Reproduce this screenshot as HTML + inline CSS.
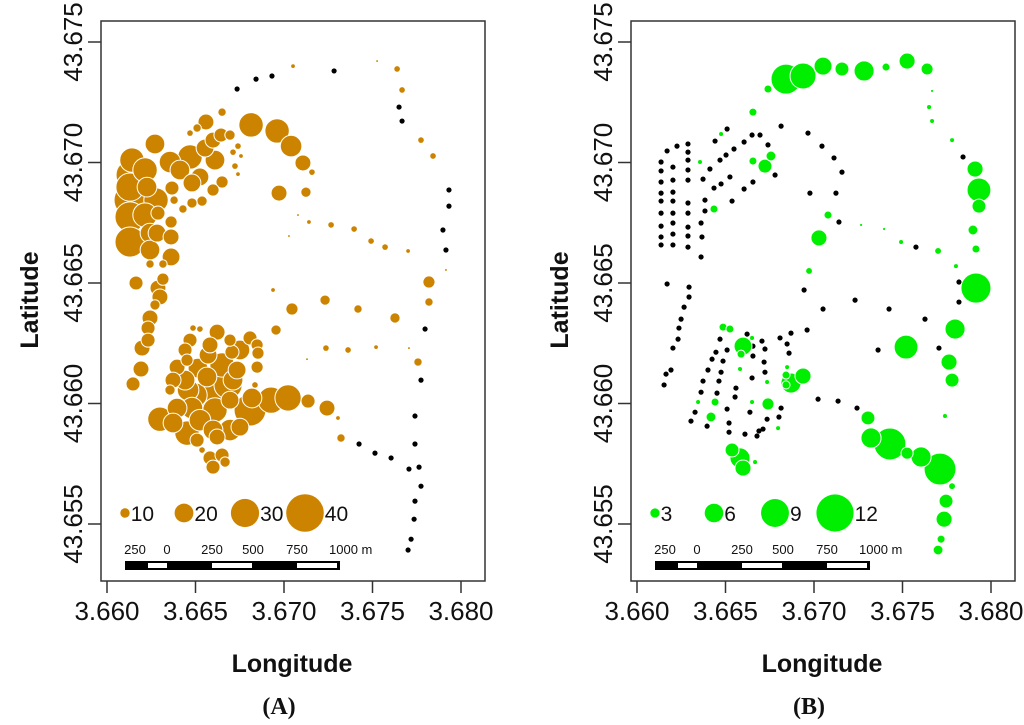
<!DOCTYPE html>
<html><head><meta charset="utf-8"><style>
body{margin:0;background:#fff;}
svg{display:block;font-family:"Liberation Sans",sans-serif;}
</style></head><body>
<svg id="fig" width="1024" height="725" viewBox="0 0 1024 725" xmlns="http://www.w3.org/2000/svg"></svg>
<script>
const xTicks=[3.660,3.665,3.670,3.675,3.680];
const yTicks=[43.655,43.660,43.665,43.670,43.675];
const xTickLabels=["3.660","3.665","3.670","3.675","3.680"];
const yTickLabels=["43.655","43.660","43.665","43.670","43.675"];
const legendA=[10,20,30,40];
const legendB=[3,6,9,12];
const scaleLabels=["250","0","250","500","750","1000 m"];
// Panel A: stations with zero counts (black)
const zeroLonA=[3.66735,3.66842,3.66932,3.67283,3.67650,3.67667,3.67932,3.67932,3.67898,3.67915,3.67797,3.67774,3.67740,3.67740,3.67763,3.67774,3.67740,3.67735,3.67718,3.67701,3.67424,3.67514,3.67605,3.67706];
const zeroLatA=[43.67305,43.67346,43.67359,43.67380,43.67230,43.67172,43.66886,43.66819,43.66720,43.66637,43.66309,43.66097,43.65948,43.65832,43.65736,43.65657,43.65595,43.65520,43.65437,43.65392,43.65832,43.65794,43.65774,43.65728];
// Panel A: counts
const lonA=[3.67051,3.67526,3.67639,3.67667,3.67774,3.67842,3.66814,3.66961,3.67040,3.67107,3.67158,3.66972,3.67124,3.67079,3.67141,3.67266,3.67396,3.67492,3.67571,3.67701,3.67028,3.67915,3.67819,3.67819,3.67757,
3.66559,3.66650,3.66509,3.66469,3.66644,3.66695,3.66599,3.66554,3.66469,3.66356,3.66271,3.66141,3.66740,3.66712,3.66757,3.66723,3.66740,3.66650,3.66599,3.66537,3.66480,3.66429,3.66525,3.66480,3.66367,3.66379,3.66130,3.66130,3.66130,3.66130,3.66136,3.66226,3.66288,3.66362,3.66362,3.66362,3.66243,3.66283,3.66243,3.66316,3.66277,3.66215,
3.66164,3.66316,3.66288,3.66299,3.66271,3.66243,3.66232,3.66232,3.66198,3.66192,3.66147,
3.66938,3.67045,3.67232,3.67418,3.67627,3.66955,3.67237,3.67362,3.67520,3.67706,3.67130,
3.66819,3.66927,3.67023,3.67136,3.67243,3.67305,3.67322,
3.66486,3.66525,3.66622,3.66469,3.66582,3.66695,3.66808,3.66848,3.66853,3.66848,3.66836,3.66441,3.66571,3.66706,3.66452,3.66650,3.66396,3.66514,3.66735,3.66373,3.66441,3.66565,3.66712,3.66356,3.66458,3.66582,3.66695,3.66808,3.66299,3.66396,3.66480,3.66373,3.66525,3.66452,3.66599,3.66695,3.66751,3.66509,3.66622,3.66537,3.66582,3.66650,3.66667,3.66599,
3.66215,3.66243,3.66412,3.66610,3.66684,3.66497,3.66610,3.66751];
const latA=[43.67400,43.67421,43.67388,43.67301,43.67093,43.67027,43.67156,43.67131,43.67068,43.66998,43.66960,43.66873,43.66877,43.66782,43.66753,43.66741,43.66724,43.66674,43.66649,43.66633,43.66695,43.66554,43.66504,43.66421,43.66172,
43.67168,43.67209,43.67143,43.67122,43.67114,43.67114,43.67093,43.67060,43.67023,43.67002,43.67077,43.67010,43.67068,43.67043,43.67027,43.66985,43.66952,43.66919,43.66886,43.66840,43.66832,43.66807,43.66940,43.66915,43.66894,43.66844,43.66898,43.66844,43.66774,43.66670,43.66948,43.66898,43.66790,43.66753,43.66691,43.66608,43.66707,43.66707,43.66579,43.66579,43.66844,43.66969,
43.66500,43.66516,43.66479,43.66442,43.66409,43.66355,43.66313,43.66263,43.66230,43.66143,43.66081,
43.66471,43.66392,43.66429,43.66392,43.66355,43.66305,43.66230,43.66222,43.66234,43.66230,43.66184,
43.66023,43.66014,43.66023,43.66010,43.65981,43.65940,43.65857,
43.66313,43.66309,43.66296,43.66263,43.66243,43.66263,43.66272,43.66243,43.66209,43.66151,43.66077,43.66222,43.66201,43.66213,43.66180,43.66160,43.66151,43.66147,43.66139,43.66097,43.66097,43.66110,43.66097,43.66056,43.66056,43.66035,43.66014,43.65973,43.65935,43.65981,43.65981,43.65919,43.65931,43.65877,43.65890,43.65890,43.65902,43.65848,43.65861,43.65807,43.65774,43.65786,43.65757,43.65736,
43.66782,43.66637,43.66969,43.67010,43.66077,43.66035,43.65973,43.66222];
const countA=[4,2,6,6,6,6,26,26,23,17,6,17,11,2,4,6,6,6,6,4,2,2,13,9,9,
17,9,9,6,15,11,17,19,26,23,21,26,6,6,4,6,4,13,13,11,11,9,19,19,15,9,30,34,32,32,32,21,15,13,17,19,21,19,9,9,26,26,
15,13,17,17,11,17,15,15,17,17,15,
4,13,11,9,11,11,6,6,4,2,2,
21,28,28,15,17,4,9,
6,6,17,15,17,13,15,13,13,13,6,15,19,15,13,26,17,21,19,17,21,21,21,11,23,36,19,34,26,21,23,21,23,26,21,23,19,15,17,6,15,15,11,15,
26,21,21,21,30,26,26,21];
// Panel B: zero stations
const zeroLonB=[3.66170,3.66136,3.66136,3.66136,3.66136,3.66136,3.66136,3.66136,3.66136,3.66136,
3.66226,3.66203,3.66203,3.66203,3.66203,3.66203,3.66203,3.66203,3.66203,
3.66288,3.66288,3.66288,3.66288,3.66288,3.66288,3.66288,3.66288,3.66288,3.66288,
3.66441,3.66509,3.66548,3.66605,3.66650,3.66695,3.66740,3.66503,3.66469,3.66412,3.66373,3.66435,3.66475,3.66525,3.66655,3.66605,3.66537,3.66384,3.66384,3.66362,3.66367,3.66362,3.66780,
3.66814,3.66966,3.67045,3.67113,3.67158,3.66977,3.67124,3.67141,3.67576,3.66944,3.67232,3.67051,3.67424,3.67627,3.67842,3.67819,3.67819,3.67706,
3.66170,3.66294,3.66294,3.66266,3.66249,3.66237,3.66232,3.66203,3.66192,3.66164,3.66153,3.66362,3.66373,3.66401,3.66424,3.66446,3.66469,3.66509,3.66486,3.66475,3.66463,3.66452,3.66328,3.66305,3.66396,3.66509,3.66520,3.66520,3.66610,3.66678,3.66689,3.66712,3.66735,3.66638,3.66554,3.66559,3.66650,3.66655,3.66655,3.66622,3.66706,3.66723,3.66718,3.66723,3.66808,3.66848,3.66859,3.66870,3.66961,3.66814,3.66802,3.67023,3.67136,3.67243,3.67362];
const zeroLatB=[43.67048,43.67002,43.66965,43.66919,43.66873,43.66840,43.66790,43.66736,43.66691,43.66658,
43.67068,43.66981,43.66927,43.66877,43.66840,43.66790,43.66749,43.66703,43.66658,
43.67077,43.67043,43.67010,43.66969,43.66927,43.66832,43.66790,43.66732,43.66695,43.66649,
43.67089,43.67139,43.67056,43.67085,43.67114,43.67114,43.67073,43.67031,43.67010,43.66973,43.66931,43.66894,43.66911,43.66940,43.66919,43.66890,43.66840,43.66844,43.66799,43.66749,43.66691,43.66608,43.66948,
43.67151,43.67122,43.67068,43.67019,43.66960,43.66873,43.66873,43.66753,43.66649,43.66471,43.66429,43.66392,43.66392,43.66350,43.67023,43.66504,43.66421,43.66230,
43.66496,43.66483,43.66442,43.66400,43.66350,43.66313,43.66267,43.66230,43.66139,43.66122,43.66077,43.66047,43.66093,43.66139,43.66184,43.66213,43.66267,43.66222,43.66176,43.66130,43.66093,43.66043,43.65964,43.65927,43.65906,43.65977,43.65919,43.65881,43.65873,43.65865,43.65886,43.65894,43.65935,43.65964,43.66027,43.66064,43.66106,43.66197,43.66238,43.66288,43.66259,43.66226,43.66172,43.66130,43.66272,43.66247,43.66209,43.66292,43.66305,43.65981,43.65944,43.66018,43.66010,43.65981,43.66222];
// Panel B: counts
const lonB=[3.66740,3.66842,3.66938,3.67051,3.67158,3.67283,3.67407,3.67526,3.67639,3.67667,3.67650,3.67667,3.67780,3.67910,3.67932,3.67932,3.67898,3.67915,3.67802,3.67915,3.67797,3.67520,3.67763,3.67780,3.67740,
3.66655,3.67079,3.67028,3.67266,3.67396,3.67492,3.67701,3.66972,3.66757,3.66723,3.66655,3.66356,3.66475,3.66435,
3.66486,3.66525,3.66599,3.66588,3.66650,3.66582,3.66735,3.66650,3.66441,3.66418,3.66345,3.66740,3.66797,3.66848,3.66842,3.66870,3.66938,3.66842,
3.66537,3.66582,3.66599,3.66667,3.67305,3.67322,3.67429,3.67526,3.67605,3.67712,3.67780,3.67746,3.67735,3.67718,3.67701];
const latB=[43.67305,43.67346,43.67359,43.67400,43.67388,43.67380,43.67396,43.67421,43.67388,43.67297,43.67230,43.67172,43.67093,43.66973,43.66886,43.66819,43.66720,43.66641,43.66570,43.66479,43.66309,43.66234,43.66172,43.66097,43.65948,
43.67209,43.66782,43.66687,43.66741,43.66724,43.66670,43.66633,43.66550,43.67027,43.66985,43.67006,43.67002,43.67118,43.66807,
43.66317,43.66309,43.66238,43.66205,43.66272,43.66143,43.66089,43.66006,43.66006,43.65944,43.66006,43.65998,43.65898,43.66151,43.66118,43.66085,43.66114,43.66077,
43.65807,43.65774,43.65732,43.65757,43.65940,43.65857,43.65832,43.65794,43.65778,43.65728,43.65657,43.65595,43.65520,43.65437,43.65392];
const countB=[2.6,9.7,8.4,5.8,4.5,6.5,2.6,5.2,3.9,0.7,1.3,1.3,1.3,5.2,7.7,4.5,3.2,2.6,1.3,9.7,6.5,7.7,5.2,4.5,1.3,
2.6,2.6,5.2,0.7,0.7,1.3,1.9,1.9,3.2,4.5,2.6,1.3,1.3,2.6,
2.6,2.6,5.8,2.6,1.3,1.3,1.3,1.3,2.6,3.2,1.3,3.9,1.3,1.3,2.6,6.5,5.2,2.6,
4.5,6.5,5.2,1.3,4.5,6.5,10.3,3.9,6.5,10.3,1.9,4.5,5.2,2.6,3.2];

const NS="http://www.w3.org/2000/svg";
const svg=document.getElementById('fig');
function mk(tag,attrs,parent){const e=document.createElementNS(NS,tag);for(const k in attrs)e.setAttribute(k,attrs[k]);(parent||svg).appendChild(e);return e;}
const BOX={left:101,right:485,top:21,bottom:581};
function xScale(off){return v=>off+107+(v-3.660)/0.005*88.5;}
function yScale(v){return 42+(43.675-v)/0.005*120.5;}

function panel(off,name,zLon,zLat,lon,lat,cnt,rPer,color,legendVals,tag){
  const xs=xScale(off);
  const g=mk('g',{});
  
  
  const box=mk('rect',{x:BOX.left+off,y:BOX.top,width:BOX.right-BOX.left,height:BOX.bottom-BOX.top,fill:'none',stroke:'#333','stroke-width':1.5},g);
  
  
  xTicks.forEach((t,i)=>{
    const x=xs(t);
    const l=mk('line',{x1:x,x2:x,y1:BOX.bottom,y2:BOX.bottom+12,stroke:'#333','stroke-width':1.5},g);
    
    
    const tx=mk('text',{x:x,y:620,'font-size':26,'text-anchor':'middle',fill:'#111'},g);
    tx.textContent=xTickLabels[i];
    
    
  });
  yTicks.forEach((t,i)=>{
    const y=yScale(t);
    const l=mk('line',{x1:BOX.left+off-13,x2:BOX.left+off,y1:y,y2:y,stroke:'#333','stroke-width':1.5},g);
    
    
    const tx=mk('text',{x:0,y:0,'font-size':26,'text-anchor':'middle',fill:'#111',transform:`translate(${off+82},${y}) rotate(-90)`},g);
    tx.textContent=yTickLabels[i];
    
    
  });
  const xt=mk('text',{x:off+292,y:672,'font-size':25,'font-weight':'bold','text-anchor':'middle',fill:'#111'},g);
  xt.textContent='Longitude';
  
  
  const yt=mk('text',{x:0,y:0,'font-size':25,'font-weight':'bold','text-anchor':'middle',fill:'#111',transform:`translate(${off+38},${300}) rotate(-90)`},g);
  yt.textContent='Latitude';
  
  
  const pt=mk('text',{x:off+279,y:714,'font-size':24,'font-weight':'bold','text-anchor':'middle','font-family':'Liberation Serif, serif',fill:'#111'},g);
  pt.textContent='('+tag+')';
  
  
  zLon.forEach((v,i)=>{
    const c=mk('circle',{cx:xs(v),cy:yScale(zLat[i]),r:2.6,fill:'#000'},g);
    
    
  });
  const idx=cnt.map((v,i)=>i).sort((a,b)=>cnt[b]-cnt[a]);
  idx.forEach(i=>{
    const r=cnt[i]*rPer;
    const c=mk('circle',{cx:xs(lon[i]),cy:yScale(lat[i]),r:r,fill:color,stroke:r>3?'#fff':'none','stroke-width':1},g);
    
    
  });
  const lx=[125,184,245,305];
  legendVals.forEach((v,i)=>{
    const r=v*rPer;
    const c=mk('circle',{cx:off+lx[i],cy:513,r:r,fill:color},g);
    
    
    const t=mk('text',{x:off+lx[i]+r+1,y:521,'font-size':21,fill:'#111'},g);
    t.textContent=String(v);
    
    
  });
  const sx=[135,167,212,253,297,329];
  scaleLabels.forEach((s,i)=>{
    const t=mk('text',{x:off+sx[i],y:554,'font-size':13,'text-anchor':i==5?'start':'middle',fill:'#111'},g);
    t.textContent=s;
    
    
  });
  const sb=mk('rect',{x:off+125,y:561,width:215,height:9,fill:'#000'},g);
  
  
  [[148,19],[212,40],[297,40]].forEach(s=>{
    const w=mk('rect',{x:off+s[0],y:563,width:s[1],height:5,fill:'#fff'},g);
    
    
  });
}
panel(0,'a',zeroLonA,zeroLatA,lonA,latA,countA,0.47,'#cc8400',legendA,'A');
panel(530,'b',zeroLonB,zeroLatB,lonB,latB,countB,1.55,'#00ee00',legendB,'B');
</script>
</body></html>
